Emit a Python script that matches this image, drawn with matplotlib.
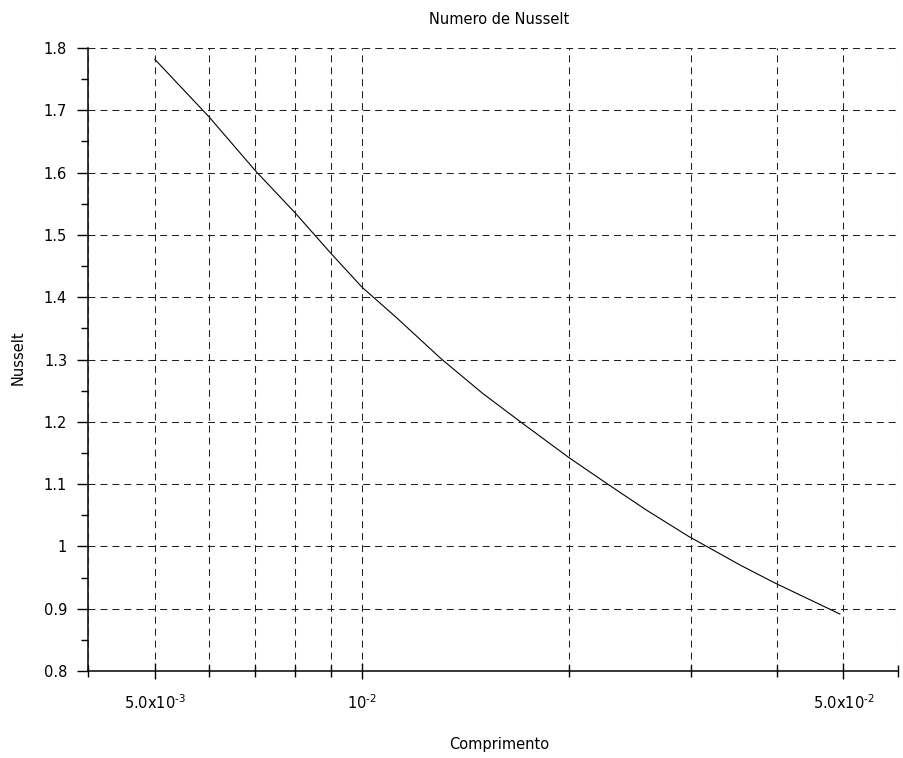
import matplotlib
matplotlib.use("Agg")
import matplotlib.pyplot as plt
from matplotlib.ticker import FixedLocator, NullFormatter

plt.rcParams['font.family'] = ['DejaVu Sans']
plt.rcParams['mathtext.default'] = 'regular'
plt.rcParams['lines.scale_dashes'] = False

# values (comprimento in m, Nusselt number)
comprimento = [5.0e-3, 6.0e-3, 7.0e-3, 8.0e-3, 9.0e-3, 1.0e-2, 1.12e-2,
               1.30e-2, 1.495e-2, 1.698e-2, 2.0e-2, 2.28e-2, 2.59e-2,
               2.98e-2, 3.165e-2, 3.54e-2, 3.98e-2, 4.94e-2]
nusselt = [1.782, 1.689, 1.603, 1.535, 1.471, 1.416, 1.368,
           1.302, 1.246, 1.200, 1.142, 1.099, 1.058,
           1.016, 1.000, 0.970, 0.941, 0.8915]

x_major = [5e-3, 1e-2, 5e-2]
x_major_labels = [r'5.0x10$^{\text{-3}}$', r'10$^{\text{-2}}$', r'5.0x10$^{\text{-2}}$']
x_minor = [4e-3, 6e-3, 7e-3, 8e-3, 9e-3, 2e-2, 3e-2, 4e-2, 6e-2]
y_major = [0.8, 0.9, 1.0, 1.1, 1.2, 1.3, 1.4, 1.5, 1.6, 1.7, 1.8]
y_major_labels = ['0.8', '0.9', '1', '1.1', '1.2', '1.3', '1.4', '1.5', '1.6', '1.7', '1.8']
y_minor = [0.85, 0.95, 1.05, 1.15, 1.25, 1.35, 1.45, 1.55, 1.65, 1.75]

fig = plt.figure(figsize=(9.04, 7.58), dpi=100)
ax = fig.add_axes([88/904, 1 - 671/758, (898 - 88)/904, (671 - 48)/758])

ax.plot(comprimento, nusselt, color='black', linewidth=0.8)

ax.set_xscale('log')
ax.set_xlim(4e-3, 6e-2)
ax.set_ylim(0.8, 1.8)

ax.set_xticks(x_major)
ax.set_xticklabels(x_major_labels)
ax.xaxis.set_minor_locator(FixedLocator(x_minor))
ax.xaxis.set_minor_formatter(NullFormatter())
ax.set_yticks(y_major)
ax.set_yticklabels(y_major_labels)
ax.set_yticks(y_minor, minor=True)

grid_kw = dict(color='#222222', linewidth=0.75, linestyle=(0, (5.0, 3.6)))
ax.grid(True, which='both', axis='x', **grid_kw)
ax.grid(True, which='major', axis='y', **grid_kw)
ax.set_axisbelow(False)

for side in ['top', 'right']:
    ax.spines[side].set_visible(False)
for side in ['left', 'bottom']:
    ax.spines[side].set_linewidth(1.1)
    ax.spines[side].set_color('black')

ax.tick_params(axis='x', which='major', direction='inout', length=12, width=1.0, pad=10, labelsize=10.5)
ax.tick_params(axis='x', which='minor', direction='inout', length=8, width=1.0)
ax.tick_params(axis='y', which='major', direction='out', length=8, width=1.0, pad=7, labelsize=10.5)
ax.tick_params(axis='y', which='minor', direction='out', length=5, width=1.0)

fig.text(499/904, 1 - 19/758, 'Numero de Nusselt', ha='center', va='center', fontsize=10.5)
fig.text(499/904, 1 - 745/758, 'Comprimento', ha='center', va='center', fontsize=10.5)
fig.text(18/904, 1 - 358/758, 'Nusselt', ha='center', va='center', rotation=90, fontsize=10.5)

fig.savefig('out.png', dpi=100, facecolor='white')
